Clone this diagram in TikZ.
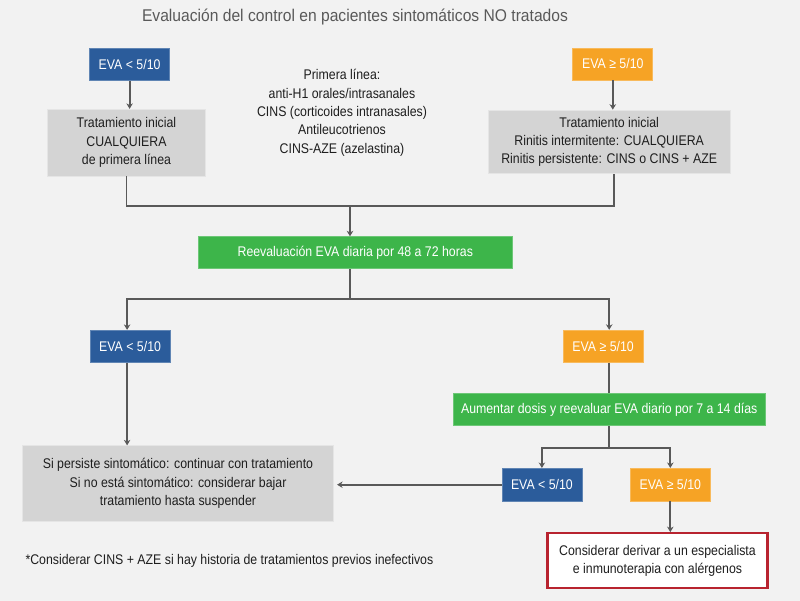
\documentclass[tikz,border=0pt]{standalone}
\usepackage{fontspec}
\setmainfont{Liberation Sans}[FakeStretch=0.88]
\newfontfamily\titlefont{Liberation Sans}[FakeStretch=0.92]
\usetikzlibrary{arrows.meta,calc}

\definecolor{fondo}{HTML}{F2F2F2}
\definecolor{azul}{HTML}{2B5C9B}
\definecolor{naranja}{HTML}{F6A325}
\definecolor{verde}{HTML}{3DB54A}
\definecolor{gris}{HTML}{D4D4D4}
\definecolor{linea}{HTML}{595959}
\definecolor{rojo}{HTML}{B8232F}
\definecolor{texto}{HTML}{1E1E1E}

\tikzset{
  caja/.style={inner sep=0pt,align=center,minimum height=32pt},
  azul/.style={caja,fill=azul,draw=azul!75!white,line width=0.8pt,text=white,minimum width=80pt},
  naranja/.style={caja,fill=naranja,draw=naranja!75!white,line width=0.8pt,text=white,minimum width=80pt},
  verde/.style={caja,fill=verde,draw=verde!75!white,line width=0.8pt,text=white,minimum width=314pt},
  gris/.style={caja,fill=gris,draw=gris!60!white,line width=0.8pt,text=texto},
  conector/.style={draw=linea,line width=1.9pt},
}

\begin{document}
\begin{tikzpicture}[x=1pt,y=-1pt,>={Stealth[length=5.5pt,width=6.5pt]},font=\fontsize{14}{18.3}\selectfont]
  \fill[fondo] (0,0) rectangle (800,601);
  \useasboundingbox (0,0) rectangle (800,601);

  \node[text=linea,font=\titlefont\fontsize{17}{20}\selectfont] (titulo) at (355,17) {Evaluación del control en pacientes sintomáticos NO tratados};

  % primera fila
  \node[azul] (evaA) at (129.6,64.2) {EVA < 5/10};
  \node[naranja] (evaB) at (612.8,64) {EVA ≥ 5/10};
  \node[gris,minimum width=158pt,minimum height=66.7pt] (tratA) at (126.5,142.6) {Tratamiento inicial\\CUALQUIERA\\de primera línea};
  \node[gris,minimum width=241.7pt,minimum height=63.3pt] (tratB) at (609.2,141.7) {Tratamiento inicial\\Rinitis intermitente: CUALQUIERA\\Rinitis persistente: CINS o CINS + AZE};
  \node[align=center,text=texto] (lista) at (342,112.7) {Primera línea:\\anti-H1 orales/intrasanales\\CINS (corticoides intranasales)\\Antileucotrienos\\CINS-AZE (azelastina)};

  \node[verde,minimum height=32pt] (reeval) at (355.3,252.7) {Reevaluación EVA diaria por 48 a 72 horas};

  % segunda fila
  \node[azul] (evaC) at (130.1,346.3) {EVA < 5/10};
  \node[naranja] (evaD) at (603.1,346.2) {EVA ≥ 5/10};
  \node[verde,minimum width=312pt,minimum height=32.4pt] (aumentar) at (609.2,409.5) {Aumentar dosis y reevaluar EVA diario por 7 a 14 días};

  % tercera fila
  \node[gris,minimum width=311.4pt,minimum height=75.3pt] (seguir) at (178,483.4) {Si persiste sintomático: continuar con tratamiento\\Si no está sintomático: considerar bajar\\tratamiento hasta suspender};
  \node[azul,minimum height=32.7pt] (evaE) at (541.9,484.7) {EVA < 5/10};
  \node[naranja,minimum height=32.7pt] (evaF) at (670.3,484.7) {EVA ≥ 5/10};
  \node[caja,fill=white,draw=rojo,line width=2.2pt,text=texto,minimum width=220pt,minimum height=55pt] (derivar) at (657.5,560.7) {Considerar derivar a un especialista\\e inmunoterapia con alérgenos};

  \node[anchor=west,text=texto] (nota) at (22,560.7) {*Considerar CINS + AZE si hay historia de tratamientos previos inefectivos};

  % conectores
  \coordinate (j1) at (350,206);
  \coordinate (j2) at (350,299);
  \coordinate (j3) at (609.2,448);
  \draw[conector,->] (evaA.south) -- (evaA.south |- tratA.north);
  \draw[conector,->] (evaB.south) -- (evaB.south |- tratB.north);
  \draw[conector] (tratA.south) |- (j1) -| ([xshift=5pt]tratB.south);
  \draw[conector,->] (j1) -- (j1 |- reeval.north);
  \draw[conector] (j2 |- reeval.south) -- (j2);
  \draw[conector,->] (j2) -| ([xshift=-3pt]evaC.north);
  \draw[conector,->] (j2) -| (aumentar.north |- evaD.north);
  \draw[conector,->] ([xshift=-3pt]evaC.south) -- ([xshift=-3pt]evaC.south |- seguir.north);
  \draw[conector] (aumentar.north |- evaD.south) -- (aumentar.north);
  \draw[conector] (aumentar.south) -- (j3);
  \draw[conector,->] (j3) -| (evaE.north);
  \draw[conector,->] (j3) -| (evaF.north);
  \draw[conector,->,shorten >=3pt] (evaE.west) -- (evaE.west -| seguir.east);
  \draw[conector,->] (evaF.south) -- (evaF.south |- derivar.north);
\end{tikzpicture}
\end{document}
